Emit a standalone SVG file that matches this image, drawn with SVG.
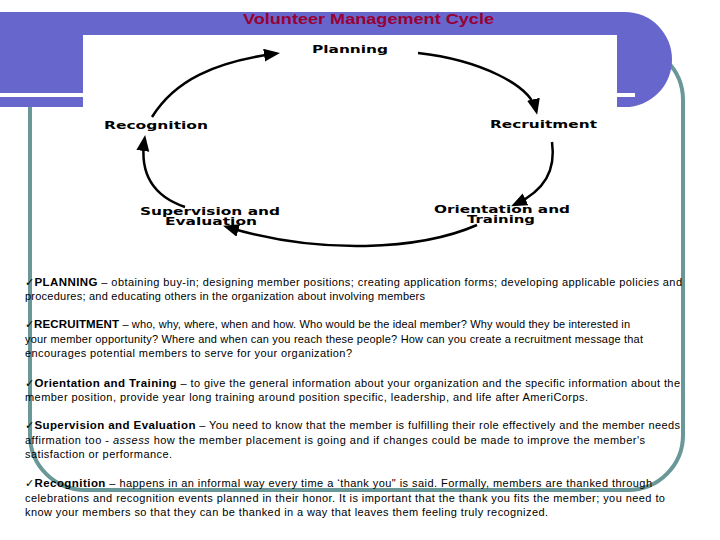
<svg xmlns="http://www.w3.org/2000/svg" width="720" height="540" viewBox="0 0 720 540">
<defs>
<style>
.title{font-family:"Liberation Sans",Arial,sans-serif;font-size:15px;font-weight:bold;fill:#990033}
.lbl{font-family:"DejaVu Sans","Liberation Sans",sans-serif;font-weight:bold;font-size:10px;fill:#000}
.body{font-family:"Liberation Sans",Arial,sans-serif;font-size:11px;fill:#000}
.b{font-weight:bold;font-size:11.5px}
.arr{fill:none;stroke:#000;stroke-width:2.5}
</style>
<marker id="ah" markerUnits="userSpaceOnUse" markerWidth="17" markerHeight="14" refX="11" refY="6.5" orient="auto">
<path d="M0,0 L16,6.5 L0,13 Z" fill="#000"/>
</marker>
</defs>
<rect width="720" height="540" fill="#fff"/>
<g id="frame">
<rect x="30" y="45" width="653" height="445" rx="55" ry="55" fill="none" stroke="#6a9898" stroke-width="4"/>
<path d="M0,12 H625 A47,47.5 0 0 1 625,107 H0 Z" fill="#6666cc"/>
<rect x="0" y="93" width="635" height="4" fill="#fff"/>
<rect x="83" y="35" width="534" height="227" fill="#fff"/>
</g>
<text class="title" x="243" y="24" textLength="251" lengthAdjust="spacingAndGlyphs">Volunteer Management Cycle</text>
<g id="connectors">
<path class="arr" marker-end="url(#ah)" d="M152,117 C175,80 215,62 275,53.6"/>
<path class="arr" marker-end="url(#ah)" d="M418,53 C480,60 530,85 536,110"/>
<path class="arr" marker-end="url(#ah)" d="M552,142 C556,170 545,190 515.6,204.2"/>
<path class="arr" marker-end="url(#ah)" d="M477,225 C420,250 320,255 227.8,227.2"/>
<path class="arr" marker-end="url(#ah)" d="M185,207 C150,195 140,170 144.4,140"/>
</g>
<g id="planning"><text class="lbl" x="312" y="53" font-size="11" textLength="76" lengthAdjust="spacingAndGlyphs">Planning</text></g>
<g id="recruitment"><text class="lbl" x="490" y="128" textLength="107" lengthAdjust="spacingAndGlyphs">Recruitment</text></g>
<g id="orientation"><text class="lbl" x="434" y="213" textLength="136" lengthAdjust="spacingAndGlyphs">Orientation and</text><text class="lbl" x="467" y="223" textLength="68" lengthAdjust="spacingAndGlyphs">Training</text></g>
<g id="supervision"><text class="lbl" x="140" y="215" textLength="140" lengthAdjust="spacingAndGlyphs">Supervision and</text><text class="lbl" x="165" y="225" textLength="92" lengthAdjust="spacingAndGlyphs">Evaluation</text></g>
<g id="recognition"><text class="lbl" x="104" y="129" textLength="104" lengthAdjust="spacingAndGlyphs">Recognition</text></g>
<g id="body" class="body">
<text x="25" y="286" textLength="657" lengthAdjust="spacing">✓<tspan class="b">PLANNING</tspan> – obtaining buy-in; designing member positions; creating application forms; developing applicable policies and</text>
<text x="25" y="300" textLength="400" lengthAdjust="spacing">procedures; and educating others in the organization about involving members</text>
<text x="25" y="328" textLength="605" lengthAdjust="spacing">✓<tspan class="b">RECRUITMENT</tspan> –  who, why, where, when and how. Who would be the ideal member? Why would they be interested in</text>
<text x="25" y="342.5" textLength="618" lengthAdjust="spacing">your member opportunity? Where and when can you reach these people? How can you create a recruitment message that</text>
<text x="25" y="357" textLength="327" lengthAdjust="spacing">encourages potential members to serve for your organization?</text>
<text x="25" y="386.5" textLength="655" lengthAdjust="spacing">✓<tspan class="b">Orientation and Training</tspan> – to give the general information about your organization and the specific information about the</text>
<text x="25" y="401" textLength="563" lengthAdjust="spacing">member position, provide year long training around position specific, leadership, and life after AmeriCorps.</text>
<text x="25" y="429" textLength="655" lengthAdjust="spacing">✓<tspan class="b">Supervision and Evaluation</tspan> – You need to know that the member is fulfilling their role effectively and the member needs</text>
<text x="25" y="443.5" textLength="620" lengthAdjust="spacing">affirmation too -  <tspan font-style="italic">assess</tspan> how the member placement is going and if changes could be made to improve the member's</text>
<text x="25" y="458" textLength="147" lengthAdjust="spacing">satisfaction or performance.</text>
<text x="25" y="487" textLength="627" lengthAdjust="spacing">✓<tspan class="b">Recognition</tspan> – happens in an informal way every time a ‘thank you" is said. Formally, members are thanked through</text>
<text x="25" y="501.5" textLength="640" lengthAdjust="spacing">celebrations and recognition events planned in their honor. It is important that the thank you fits the member; you need to</text>
<text x="25" y="516" textLength="523" lengthAdjust="spacing">know your members so that they can be thanked in a way that leaves them feeling truly recognized.</text>
</g>
</svg>
